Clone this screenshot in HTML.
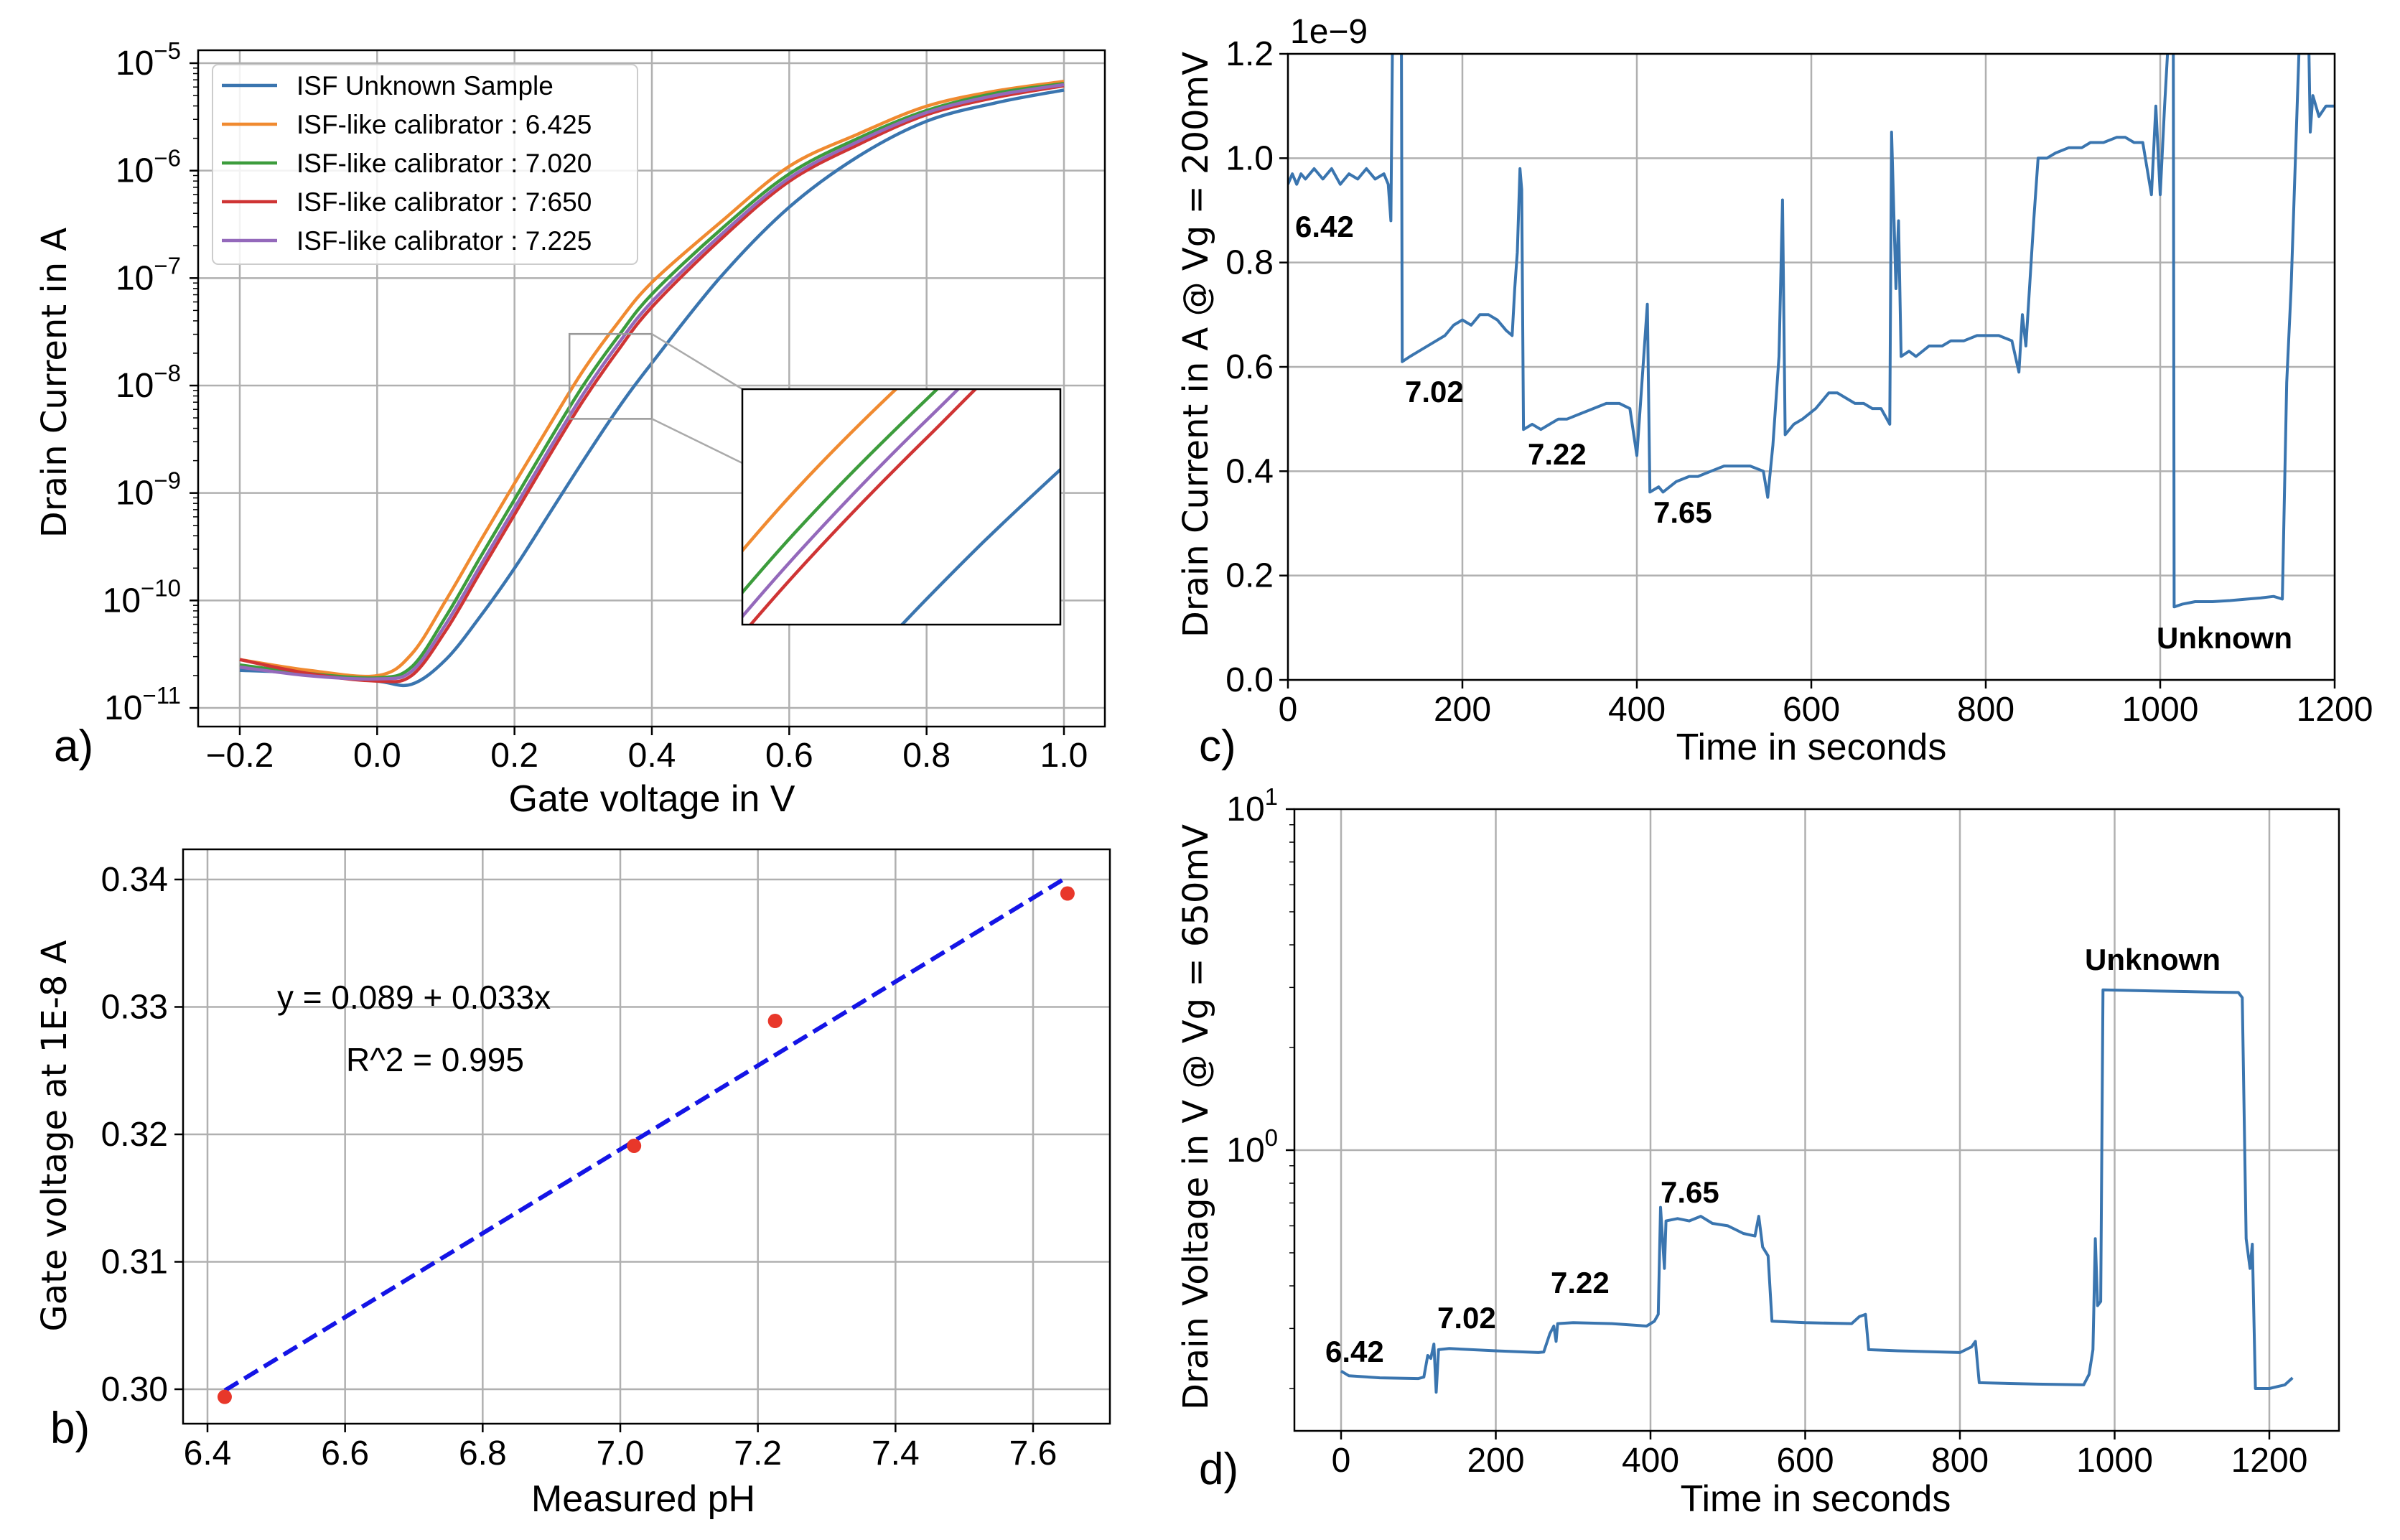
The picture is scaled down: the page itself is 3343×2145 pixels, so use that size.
<!DOCTYPE html>
<html><head><meta charset="utf-8"><style>
html,body{margin:0;padding:0;background:#fff;}
svg{display:block;font-family:"Liberation Sans",sans-serif;}
</style></head><body>
<svg id="fig" width="3343" height="2145" viewBox="0 0 3343 2145" xmlns="http://www.w3.org/2000/svg">
<defs>
<clipPath id="clipA"><rect x="276" y="70" width="1263" height="942"/></clipPath>
<clipPath id="clipI"><rect x="1034" y="542" width="443" height="328"/></clipPath>
<clipPath id="clipB"><rect x="255" y="1183" width="1291" height="800"/></clipPath>
<clipPath id="clipC"><rect x="1794" y="75" width="1458" height="872"/></clipPath>
<clipPath id="clipD"><rect x="1803" y="1127" width="1455" height="866"/></clipPath>
</defs>
<text x="75" y="1060" font-size="62">a)</text>
<text x="70" y="2010" font-size="62">b)</text>
<text x="1670" y="1060" font-size="62">c)</text>
<text x="1670" y="2067" font-size="62">d)</text>
<text x="908" y="1130" font-size="52" text-anchor="middle">Gate voltage in V</text>
<text transform="translate(92,533) rotate(-90)" font-size="48" text-anchor="middle" font-family="DejaVu Sans">Drain Current in A</text>
<text x="896" y="2105" font-size="52" text-anchor="middle">Measured pH</text>
<text transform="translate(92,1582) rotate(-90)" font-size="48" text-anchor="middle" font-family="DejaVu Sans">Gate voltage at 1E-8 A</text>
<text x="2523" y="1058" font-size="52" text-anchor="middle">Time in seconds</text>
<text transform="translate(1682,480) rotate(-90)" font-size="48" text-anchor="middle" font-family="DejaVu Sans">Drain Current in A @ Vg = 200mV</text>
<text x="1797" y="60" font-size="48">1e−9</text>
<text x="2529" y="2105" font-size="52" text-anchor="middle">Time in seconds</text>
<text transform="translate(1682,1556) rotate(-90)" font-size="48" text-anchor="middle" font-family="DejaVu Sans">Drain Voltage in V @ Vg = 650mV</text>
</svg>
<script>
// ---------- data ----------
const vgA = [-0.2,-0.1,0,0.05,0.1,0.15,0.2,0.25,0.3,0.35,0.4,0.5,0.6,0.7,0.8,0.9,1.0];
const logOrange = [-10.55,-10.65,-10.7,-10.5,-10.0,-9.45,-8.91,-8.38,-7.86,-7.42,-7.04,-6.48,-5.96,-5.66,-5.40,-5.26,-5.17];
const logGreen = [-10.6,-10.68,-10.72,-10.62,-10.15,-9.6,-9.06,-8.52,-8.0,-7.55,-7.15,-6.55,-6.03,-5.7,-5.44,-5.28,-5.19];
const logPurple = [-10.62,-10.7,-10.73,-10.66,-10.22,-9.68,-9.14,-8.6,-8.08,-7.62,-7.22,-6.6,-6.07,-5.73,-5.46,-5.3,-5.2];
const logRed = [-10.55,-10.68,-10.75,-10.7,-10.28,-9.74,-9.2,-8.66,-8.14,-7.68,-7.27,-6.64,-6.1,-5.76,-5.48,-5.32,-5.21];
const logBlue = [-10.65,-10.68,-10.75,-10.78,-10.55,-10.15,-9.7,-9.2,-8.7,-8.22,-7.79,-6.99,-6.34,-5.87,-5.54,-5.37,-5.25];
const legendLabels = ["ISF Unknown Sample","ISF-like calibrator : 6.425","ISF-like calibrator : 7.020","ISF-like calibrator : 7:650","ISF-like calibrator : 7.225"];
const xTicksA = [-0.2,0,0.2,0.4,0.6,0.8,1.0];
const xTickLabelsA = ["−0.2","0.0","0.2","0.4","0.6","0.8","1.0"];
const yTicksA = [-5,-6,-7,-8,-9,-10,-11];

const phB = [6.425,7.02,7.225,7.65];
const vgB = [0.2994,0.3191,0.3289,0.3389];
const fitX = [6.425,7.65];
const fitY = [0.2999,0.3402];
const xTicksB = [6.4,6.6,6.8,7.0,7.2,7.4,7.6];
const yTicksB = [0.30,0.31,0.32,0.33,0.34];

const tC = [0,5,10,15,20,30,40,50,60,70,80,90,100,110,115,118,120,130,131,140,150,160,170,180,190,200,210,220,230,240,250,257,260,263,266,268,270,280,290,300,310,320,335,350,365,380,392,400,405,412,415,425,430,445,460,470,485,500,515,530,545,550,556,563,567,570,580,590,605,620,630,640,650,660,670,680,690,692,697,700,703,712,720,735,750,760,775,790,800,815,830,838,842,846,855,860,870,880,895,910,920,935,950,960,970,980,990,995,1000,1005,1010,1015,1016,1025,1040,1060,1080,1100,1115,1130,1140,1145,1150,1160,1170,1172,1175,1182,1190,1200];
const iC = [0.95,0.97,0.95,0.97,0.96,0.98,0.96,0.98,0.95,0.97,0.96,0.98,0.96,0.97,0.95,0.88,1.25,1.25,0.61,0.62,0.63,0.64,0.65,0.66,0.68,0.69,0.68,0.70,0.70,0.69,0.67,0.66,0.75,0.82,0.98,0.94,0.48,0.49,0.48,0.49,0.50,0.50,0.51,0.52,0.53,0.53,0.52,0.43,0.55,0.72,0.36,0.37,0.36,0.38,0.39,0.39,0.40,0.41,0.41,0.41,0.40,0.35,0.45,0.62,0.92,0.47,0.49,0.50,0.52,0.55,0.55,0.54,0.53,0.53,0.52,0.52,0.49,1.05,0.75,0.88,0.62,0.63,0.62,0.64,0.64,0.65,0.65,0.66,0.66,0.66,0.65,0.59,0.70,0.64,0.88,1.00,1.00,1.01,1.02,1.02,1.03,1.03,1.04,1.04,1.03,1.03,0.93,1.10,0.93,1.10,1.25,1.25,0.14,0.145,0.15,0.15,0.152,0.155,0.157,0.16,0.155,0.57,0.75,1.25,1.25,1.05,1.12,1.08,1.10,1.10];
const xTicksC = [0,200,400,600,800,1000,1200];
const yTicksC = [0,0.2,0.4,0.6,0.8,1.0,1.2];
const labelsC = ["6.42","7.02","7.22","7.65","Unknown"];

const tD = [0,10,50,100,107,112,116,120,123,126,140,200,255,262,270,275,278,280,300,350,395,405,410,413,418,420,435,450,465,480,500,520,535,540,545,552,557,600,660,670,678,682,720,800,815,820,825,900,960,967,972,975,978,982,985,1050,1120,1160,1165,1170,1175,1178,1182,1200,1220,1230];
const vD = [0.225,0.218,0.215,0.214,0.216,0.25,0.245,0.27,0.195,0.26,0.262,0.258,0.255,0.256,0.29,0.305,0.275,0.31,0.312,0.31,0.305,0.315,0.33,0.68,0.45,0.62,0.63,0.62,0.64,0.61,0.6,0.57,0.56,0.64,0.52,0.49,0.315,0.312,0.31,0.325,0.33,0.26,0.258,0.255,0.265,0.275,0.208,0.206,0.205,0.22,0.26,0.55,0.35,0.36,2.95,2.93,2.91,2.90,2.8,0.55,0.45,0.53,0.2,0.2,0.205,0.215];
const xTicksD = [0,200,400,600,800,1000,1200];
const yTicksD = [0,1];

// ---------- scales ----------
const ax = v => 334 + (v + 0.2) / 1.2 * 1148;
const ay = l => 88 + (-5 - l) * 149.67;
const ix = v => 1034 + (v - 0.28) / 0.12 * 443;
const iy = l => 542 + (-7.52 - l) / 0.79 * 328;
const bx = p => 289 + (p - 6.4) / 1.2 * 1150;
const by = v => 1935 - (v - 0.30) / 0.04 * 710;
const cx = t => 1794 + t / 1200 * 1458;
const cy = v => 947 - v / 1.2 * 872;
const dx = t => 1868 + t / 1200 * 1293;
const dy = v => 1602 - Math.log10(v) * 475;

const svg = document.getElementById('fig');
const NS = 'http://www.w3.org/2000/svg';
function mk(tag, attrs, parent) {
  const e = document.createElementNS(NS, tag);
  for (const k in attrs) e.setAttribute(k, attrs[k]);
  (parent || svg).appendChild(e);
  return e;
}
function pts(xs, ys, fx, fy) { return xs.map((x, i) => fx(x).toFixed(1) + ',' + fy(ys[i]).toFixed(1)).join(' '); }
function smooth(xs, ys, fx, fy) {
  const P = xs.map((x, i) => [fx(x), fy(ys[i])]);
  let d = 'M' + P[0][0].toFixed(1) + ',' + P[0][1].toFixed(1);
  for (let i = 0; i < P.length - 1; i++) {
    const p0 = P[Math.max(0, i - 1)], p1 = P[i], p2 = P[i + 1], p3 = P[Math.min(P.length - 1, i + 2)];
    const c1 = [p1[0] + (p2[0] - p0[0]) / 6, p1[1] + (p2[1] - p0[1]) / 6];
    const c2 = [p2[0] - (p3[0] - p1[0]) / 6, p2[1] - (p3[1] - p1[1]) / 6];
    d += ' C' + c1[0].toFixed(1) + ',' + c1[1].toFixed(1) + ' ' + c2[0].toFixed(1) + ',' + c2[1].toFixed(1) + ' ' + p2[0].toFixed(1) + ',' + p2[1].toFixed(1);
  }
  return d;
}
const GRID = '#b0b0b0';

// ---------- panel A ----------
const gA = mk('g', {});


xTicksA.forEach((v, i) => {
  const g = mk('line', {x1: ax(v), x2: ax(v), y1: 70, y2: 1012, stroke: GRID, 'stroke-width': 2.5}, gA);
  
  
  const t = mk('line', {x1: ax(v), x2: ax(v), y1: 1012, y2: 1024, stroke: '#000', 'stroke-width': 2.5}, gA);
  
  
  const lb = mk('text', {x: ax(v), y: 1068, 'font-size': 48, 'text-anchor': 'middle'}, gA);
  lb.textContent = xTickLabelsA[i];
  
  
});
yTicksA.forEach(l => {
  const g = mk('line', {x1: 276, x2: 1539, y1: ay(l), y2: ay(l), stroke: GRID, 'stroke-width': 2.5}, gA);
  
  
  const t = mk('line', {x1: 264, x2: 276, y1: ay(l), y2: ay(l), stroke: '#000', 'stroke-width': 2.5}, gA);
  
  
  const lb = mk('text', {x: 252, y: ay(l) + 16, 'font-size': 48, 'text-anchor': 'end'}, gA);
  
  
  const b = mk('tspan', {}, lb); b.textContent = '10';
  const s = mk('tspan', {dy: -22, 'font-size': 33}, lb); s.textContent = '−' + (-l);
  for (let m = 2; m <= 9; m++) {
    const yl = l + Math.log10(m);
    if (yl > -5 || ay(yl) > 1012) continue;
    const mt = mk('line', {x1: 269, x2: 276, y1: ay(yl), y2: ay(yl), stroke: '#000', 'stroke-width': 1.5}, gA);
    
    
  }
});
const seriesA = [[logBlue, '#3a75af', 'series-unknown-sample'], [logOrange, '#f08a30', 'series-cal-6425'], [logGreen, '#3c9c3c', 'series-cal-7020'], [logRed, '#cf3434', 'series-cal-7650'], [logPurple, '#9469bb', 'series-cal-7225']];
const clipGA = mk('g', {'clip-path': 'url(#clipA)'}, gA);
seriesA.forEach(s => {
  const p = mk('path', {d: smooth(vgA, s[0], ax, ay), fill: 'none', stroke: s[1], 'stroke-width': 4.5, 'stroke-linejoin': 'round'}, clipGA);
  
  
});
const frA = mk('rect', {x: 276, y: 70, width: 1263, height: 942, fill: 'none', stroke: '#000', 'stroke-width': 2.5}, gA);


const zr = mk('rect', {x: ax(0.28), y: ay(-7.52), width: ax(0.40) - ax(0.28), height: ay(-8.31) - ay(-7.52), fill: 'none', stroke: '#999', 'stroke-width': 2.5}, gA);


const c1 = mk('line', {x1: ax(0.40), y1: ay(-7.52), x2: 1034, y2: 542, stroke: '#aaa', 'stroke-width': 2.5}, gA);


const c2 = mk('line', {x1: ax(0.40), y1: ay(-8.31), x2: 1034, y2: 645, stroke: '#aaa', 'stroke-width': 2.5}, gA);


const ibg = mk('rect', {x: 1034, y: 542, width: 443, height: 328, fill: '#fff'}, gA);


const clipGI = mk('g', {'clip-path': 'url(#clipI)'}, gA);
seriesA.forEach(s => {
  const p = mk('path', {d: smooth(vgA, s[0], ix, iy), fill: 'none', stroke: s[1], 'stroke-width': 4.5}, clipGI);
  
  
});
const ifr = mk('rect', {x: 1034, y: 542, width: 443, height: 328, fill: 'none', stroke: '#000', 'stroke-width': 2.5}, gA);


const lg = mk('g', {}, gA);


const lbx = mk('rect', {x: 296, y: 90, width: 592, height: 278, rx: 8, fill: '#fff', 'fill-opacity': 0.85, stroke: '#ccc', 'stroke-width': 2}, lg);


legendLabels.forEach((lab, i) => {
  const y = 119 + i * 54;
  const ln = mk('line', {x1: 309, x2: 386, y1: y, y2: y, stroke: seriesA[i][1], 'stroke-width': 4.5}, lg);
  
  
  const tx = mk('text', {x: 413, y: y + 13, 'font-size': 37}, lg);
  tx.textContent = lab;
  
  
});

// ---------- panel B ----------
const gB = mk('g', {});


xTicksB.forEach(v => {
  const g = mk('line', {x1: bx(v), x2: bx(v), y1: 1183, y2: 1983, stroke: GRID, 'stroke-width': 2.5}, gB);
  
  
  const t = mk('line', {x1: bx(v), x2: bx(v), y1: 1983, y2: 1995, stroke: '#000', 'stroke-width': 2.5}, gB);
  
  
  const lb = mk('text', {x: bx(v), y: 2040, 'font-size': 48, 'text-anchor': 'middle'}, gB);
  lb.textContent = v.toFixed(1);
  
  
});
yTicksB.forEach(v => {
  const g = mk('line', {x1: 255, x2: 1546, y1: by(v), y2: by(v), stroke: GRID, 'stroke-width': 2.5}, gB);
  
  
  const t = mk('line', {x1: 243, x2: 255, y1: by(v), y2: by(v), stroke: '#000', 'stroke-width': 2.5}, gB);
  
  
  const lb = mk('text', {x: 234, y: by(v) + 16, 'font-size': 48, 'text-anchor': 'end'}, gB);
  lb.textContent = v.toFixed(2);
  
  
});
const clipGB = mk('g', {'clip-path': 'url(#clipB)'}, gB);
const fit = mk('polyline', {points: pts(fitX, fitY, bx, by), fill: 'none', stroke: '#1414e6', 'stroke-width': 6, 'stroke-dasharray': '22,10'}, clipGB);


phB.forEach((p, i) => {
  const c = mk('circle', {cx: bx(p), cy: by(vgB[i]), r: 10, fill: '#e8372a'}, clipGB);
  
  
});
const frB = mk('rect', {x: 255, y: 1183, width: 1291, height: 800, fill: 'none', stroke: '#000', 'stroke-width': 2.5}, gB);


const eq = mk('text', {x: 386, y: 1405, 'font-size': 46}, gB);
eq.textContent = 'y = 0.089 + 0.033x';


const r2 = mk('text', {x: 482, y: 1492, 'font-size': 46}, gB);
r2.textContent = 'R^2 = 0.995';



// ---------- panel C ----------
const gC = mk('g', {});


xTicksC.forEach(v => {
  const g = mk('line', {x1: cx(v), x2: cx(v), y1: 75, y2: 947, stroke: GRID, 'stroke-width': 2.5}, gC);
  
  
  const t = mk('line', {x1: cx(v), x2: cx(v), y1: 947, y2: 959, stroke: '#000', 'stroke-width': 2.5}, gC);
  
  
  const lb = mk('text', {x: cx(v), y: 1004, 'font-size': 48, 'text-anchor': 'middle'}, gC);
  lb.textContent = String(v);
  
  
});
yTicksC.forEach(v => {
  const g = mk('line', {x1: 1794, x2: 3252, y1: cy(v), y2: cy(v), stroke: GRID, 'stroke-width': 2.5}, gC);
  
  
  const t = mk('line', {x1: 1782, x2: 1794, y1: cy(v), y2: cy(v), stroke: '#000', 'stroke-width': 2.5}, gC);
  
  
  const lb = mk('text', {x: 1774, y: cy(v) + 16, 'font-size': 48, 'text-anchor': 'end'}, gC);
  lb.textContent = v.toFixed(1);
  
  
});
const clipGC = mk('g', {'clip-path': 'url(#clipC)'}, gC);
const lc = mk('polyline', {points: pts(tC, iC, cx, cy), fill: 'none', stroke: '#3a75af', 'stroke-width': 4, 'stroke-linejoin': 'round'}, clipGC);


const frC = mk('rect', {x: 1794, y: 75, width: 1458, height: 872, fill: 'none', stroke: '#000', 'stroke-width': 2.5}, gC);


const posC = [[1804, 330], [1957, 560], [2128, 647], [2303, 728], [3004, 903]];
labelsC.forEach((s, i) => {
  const tx = mk('text', {x: posC[i][0], y: posC[i][1], 'font-size': 42, 'font-weight': 'bold'}, gC);
  tx.textContent = s;
  
  
});

// ---------- panel D ----------
const gD = mk('g', {});


xTicksD.forEach(v => {
  const g = mk('line', {x1: dx(v), x2: dx(v), y1: 1127, y2: 1993, stroke: GRID, 'stroke-width': 2.5}, gD);
  
  
  const t = mk('line', {x1: dx(v), x2: dx(v), y1: 1993, y2: 2005, stroke: '#000', 'stroke-width': 2.5}, gD);
  
  
  const lb = mk('text', {x: dx(v), y: 2050, 'font-size': 48, 'text-anchor': 'middle'}, gD);
  lb.textContent = String(v);
  
  
});
yTicksD.forEach(p => {
  const yv = dy(Math.pow(10, p));
  if (p === 0) {
    const g = mk('line', {x1: 1803, x2: 3258, y1: yv, y2: yv, stroke: GRID, 'stroke-width': 2.5}, gD);
    
    
  }
  const t = mk('line', {x1: 1791, x2: 1803, y1: yv, y2: yv, stroke: '#000', 'stroke-width': 2.5}, gD);
  
  
  const lb = mk('text', {x: 1780, y: yv + 16, 'font-size': 48, 'text-anchor': 'end'}, gD);
  
  
  const b = mk('tspan', {}, lb); b.textContent = '10';
  const s = mk('tspan', {dy: -22, 'font-size': 33}, lb); s.textContent = String(p);
});
[0.2,0.3,0.4,0.5,0.6,0.7,0.8,0.9,2,3,4,5,6,7,8,9].forEach(m => {
  const mt = mk('line', {x1: 1796, x2: 1803, y1: dy(m), y2: dy(m), stroke: '#000', 'stroke-width': 1.5}, gD);
  
  
});
const clipGD = mk('g', {'clip-path': 'url(#clipD)'}, gD);
const ld = mk('polyline', {points: pts(tD, vD, dx, dy), fill: 'none', stroke: '#3a75af', 'stroke-width': 4, 'stroke-linejoin': 'round'}, clipGD);


const frD = mk('rect', {x: 1803, y: 1127, width: 1455, height: 866, fill: 'none', stroke: '#000', 'stroke-width': 2.5}, gD);


const posD = [[1846, 1897], [2002, 1850], [2160, 1801], [2313, 1675], [2904, 1351]];
labelsC.forEach((s, i) => {
  const tx = mk('text', {x: posD[i][0], y: posD[i][1], 'font-size': 42, 'font-weight': 'bold'}, gD);
  tx.textContent = s;
  
  
});
</script>
</body></html>
